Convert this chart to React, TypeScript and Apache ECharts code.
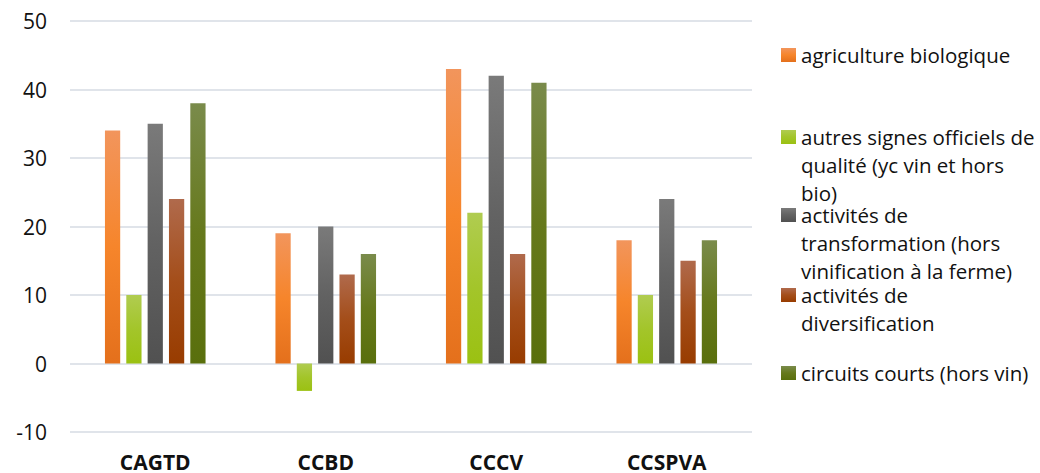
import React, { useEffect, useRef } from "react";
import * as echarts from "echarts";

const categories = ["CAGTD", "CCBD", "CCCV", "CCSPVA"];
const seriesNames = [
  "agriculture biologique",
  "autres signes officiels de qualité (yc vin et hors bio)",
  "activités de transformation (hors vinification à la ferme)",
  "activités de diversification",
  "circuits courts (hors vin)",
];
const legendLines = [
  ["agriculture biologique"],
  ["autres signes officiels de", "qualité (yc vin et hors", "bio)"],
  ["activités de", "transformation (hors", "vinification à la ferme)"],
  ["activités de", "diversification"],
  ["circuits courts (hors vin)"],
];
const agricultureBio = [34, 19, 43, 18];
const autresSignes = [10, -4, 22, 10];
const transformation = [35, 20, 42, 24];
const diversification = [24, 13, 16, 15];
const circuitsCourts = [38, 16, 41, 18];
const seriesValues = [agricultureBio, autresSignes, transformation, diversification, circuitsCourts];
const yTicks = { min: -10, max: 50, interval: 10 };

const gradients: [string, string, string][] = [
  ["#F2955C", "#F6852B", "#E4701C"],
  ["#B0CC50", "#A3C52A", "#9BC112"],
  ["#7A7A7A", "#626262", "#515151"],
  ["#B06A4C", "#A44E1A", "#983C00"],
  ["#7A8B4B", "#66791C", "#596F0C"],
];

const legendFirstLineCenters = [55, 137, 215, 295, 373];
const LINE_STEP = 28;
const BOX_LH = 22;
const FONT = "'Open Sans', sans-serif";
const LEGEND_FS = 20.5;

export default function App() {
  const ref = useRef<HTMLDivElement>(null);
  useEffect(() => {
    if (!ref.current) return;
    const chart = echarts.init(ref.current, undefined, { renderer: "svg" });
    const grad = (c: [string, string, string]) =>
      new echarts.graphic.LinearGradient(0, 0, 0, 1, [
        { offset: 0, color: c[0] },
        { offset: 0.5, color: c[1] },
        { offset: 1, color: c[2] },
      ]);
    const legends = seriesNames.map((name, i) => ({
      data: [name],
      orient: "vertical",
      left: 781,
      top: legendFirstLineCenters[i] - BOX_LH / 2,
      padding: 0,
      itemWidth: 15,
      itemHeight: 14,
      itemGap: 0,
      icon: "rect",
      selectedMode: false,
      formatter: () => legendLines[i][0],
      textStyle: {
        fontFamily: FONT,
        fontSize: LEGEND_FS,
        lineHeight: BOX_LH,
        color: "#111",
      },
    }));
    const extraLines: any[] = [];
    legendLines.forEach((lines, i) => {
      lines.slice(1).forEach((t, k) => {
        extraLines.push({
          type: "text",
          x: 801,
          y: legendFirstLineCenters[i] + (k + 1) * LINE_STEP,
          style: {
            text: t,
            fontFamily: FONT,
            fontSize: LEGEND_FS,
            lineHeight: BOX_LH,
            fill: "#111",
            verticalAlign: "middle",
            align: "left",
          },
        });
      });
    });
    chart.setOption({
      animation: false,
      backgroundColor: "#fff",
      legend: legends,
      graphic: extraLines,
      grid: { left: 70, right: 288, top: 21, bottom: 41, containLabel: false },
      xAxis: {
        type: "category",
        data: categories,
        axisLine: { show: false, onZero: false },
        axisTick: { show: false },
        axisLabel: {
          fontFamily: FONT,
          fontSize: 21,
          fontWeight: "bold",
          color: "#111",
          lineHeight: 18,
          margin: 21,
        },
      },
      yAxis: {
        type: "value",
        min: yTicks.min,
        max: yTicks.max,
        interval: yTicks.interval,
        axisLine: { show: false },
        axisTick: { show: false },
        axisLabel: { fontFamily: FONT, fontSize: 21, color: "#111", margin: 23 },
        splitLine: { lineStyle: { color: "#E0E4EA", width: 2 } },
      },
      series: seriesNames.map((name, i) => ({
        name,
        type: "bar",
        data: seriesValues[i],
        barGap: "40%",
        barCategoryGap: "41%",
        itemStyle: { color: grad(gradients[i]) },
      })),
    });
    return () => chart.dispose();
  }, []);
  return <div ref={ref} style={{ width: 1040, height: 473, position: "absolute", left: 0, top: 0 }} />;
}
